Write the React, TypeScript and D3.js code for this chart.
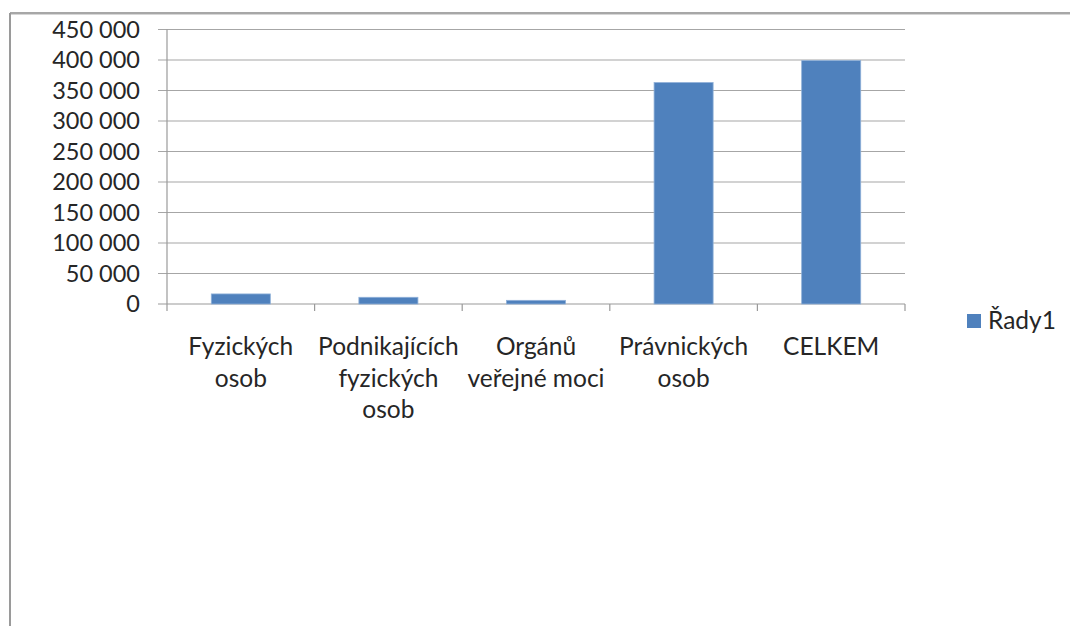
import React from "react";
import * as d3 from "d3";

const categories: string[][] = [
  ["Fyzických", "osob"],
  ["Podnikajících", "fyzických", "osob"],
  ["Orgánů", "veřejné moci"],
  ["Právnických", "osob"],
  ["CELKEM"],
];
const categoryKeys = ["Fyzických osob", "Podnikajících fyzických osob", "Orgánů veřejné moci", "Právnických osob", "CELKEM"];
const values = [16500, 11000, 6000, 363000, 399000];
const yTicks = [0, 50000, 100000, 150000, 200000, 250000, 300000, 350000, 400000, 450000];
const seriesName = "Řady1";

const W = 1070;
const H = 626;
const left = 167;
const right = 905;
const top = 29.5;
const bottom = 304;
const FONT = "Lato, 'Open Sans', sans-serif";
const BAR = "#4f81bd";
const GRID = "#a6a6a6";

const fmt = (v: number) => {
  const s = String(v);
  return s.replace(/\B(?=(\d{3})+(?!\d))/g, " ");
};

export default function App() {
  const x = d3.scaleBand<string>().domain(categoryKeys).range([left, right]).paddingInner(0.6).paddingOuter(0.3);
  const y = d3.scaleLinear().domain([0, 450000]).range([bottom, top]);
  const step = x.step();
  const boundaries = d3.range(categoryKeys.length + 1).map((i) => left + i * step);

  return (
    <svg width={W} height={H} style={{ position: "absolute", left: 0, top: 0, background: "#fff" }}>
      <rect x={0} y={0} width={W} height={H} fill="#fff" />
      {/* outer border */}
      <line x1={10} y1={13} x2={W} y2={13} stroke="#8a8a8a" strokeWidth={1.5} />
      <line x1={10} y1={14.5} x2={W} y2={14.5} stroke="#d6d6d6" strokeWidth={1} />
      <line x1={10} y1={13} x2={10} y2={H} stroke="#9a9a9a" strokeWidth={2} />
      {/* gridlines + y ticks */}
      {yTicks.map((t) => (
        <g key={t}>
          <line x1={158} x2={right} y1={y(t)} y2={y(t)} stroke={t === 0 ? "#9a9a9a" : GRID} strokeWidth={1.2} />
          <text x={140} y={y(t)} dy="0.36em" textAnchor="end" fontFamily={FONT} fontSize={23.5} fill="#262626">
            {fmt(t)}
          </text>
        </g>
      ))}
      {/* y axis */}
      <line x1={left} x2={left} y1={top} y2={bottom} stroke="#9a9a9a" strokeWidth={1.2} />
      {/* x ticks */}
      {boundaries.map((b, i) => (
        <line key={i} x1={b} x2={b} y1={bottom} y2={bottom + 7} stroke="#9a9a9a" strokeWidth={1.2} />
      ))}
      {/* bars */}
      {categoryKeys.map((c, i) => (
        <rect
          key={c}
          x={x(c)}
          y={y(values[i])}
          width={x.bandwidth()}
          height={bottom - y(values[i])}
          fill={BAR}
          stroke="#8fb0d8"
          strokeWidth={0.8}
        />
      ))}
      {/* x labels */}
      {categoryKeys.map((c, i) => (
        <text key={c} textAnchor="middle" fontFamily={FONT} fontSize={24.5} fill="#262626">
          {categories[i].map((line, j) => (
            <tspan key={j} x={(x(c) as number) + x.bandwidth() / 2} y={355 + j * 31.5}>
              {line}
            </tspan>
          ))}
        </text>
      ))}
      {/* legend */}
      <rect x={967} y={314} width={14} height={14} fill={BAR} />
      <text x={988} y={329} fontFamily={FONT} fontSize={24.5} fill="#262626">
        {seriesName}
      </text>
    </svg>
  );
}
